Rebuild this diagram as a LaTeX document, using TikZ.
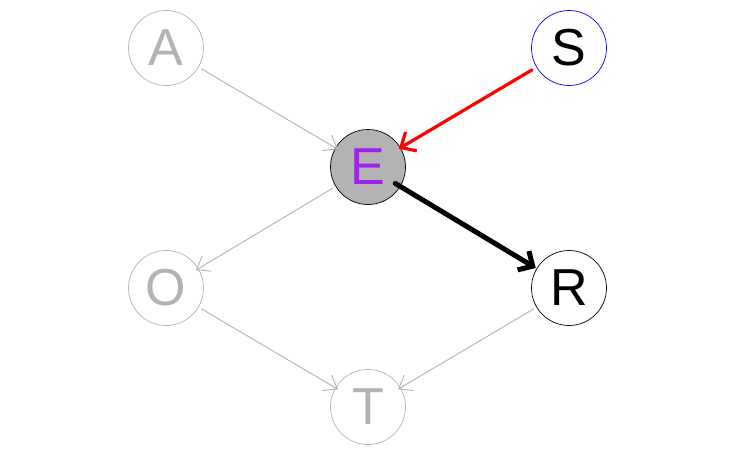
\documentclass[tikz,border=0pt]{standalone}
\usepackage{fontspec}
\setmainfont{Liberation Sans}
\usetikzlibrary{arrows.meta}
\definecolor{lg}{HTML}{B3B3B3}
\definecolor{pur}{HTML}{A020F0}
\begin{document}
\begin{tikzpicture}[x=1pt,y=-1pt,
  vnode/.style={circle,minimum size=75pt,inner sep=0pt,draw,line width=0.7pt,font=\fontsize{52}{52}\selectfont},
  faded/.style={vnode,draw=lg,text=lg},
  greyedge/.style={draw=lg,line width=0.9pt,-{Straight Barb[length=12pt,width=18pt,line width=0.9pt]},shorten <=3pt,shorten >=-3pt},
]
\useasboundingbox (0,0) rectangle (737,455);
\node[faded] (A) at (166,48) {A};
\node[vnode,draw=blue] (S) at (569,48) {S};
\node[vnode,fill=lg,text=pur] (E) at (368,167) {E};
\node[faded] (O) at (166,288) {O};
\node[vnode] (R) at (569,288) {R};
\node[faded] (T) at (368,407) {T};
\draw[greyedge] (A) -- (E);
\draw[greyedge] (E) -- (O);
\draw[greyedge] (O) -- (T);
\draw[greyedge] (R) -- (T);
\draw[red,line width=3.2pt,line cap=round,-{Straight Barb[length=12pt,width=22pt,line width=3.2pt]},shorten <=5pt,shorten >=-2pt] (S) -- (E);
\draw[black,line width=5pt,line cap=round,-{Straight Barb[length=11pt,width=22pt,line width=5pt]},shorten <=-6pt,shorten >=1pt] (E) -- (R);
\end{tikzpicture}
\end{document}
